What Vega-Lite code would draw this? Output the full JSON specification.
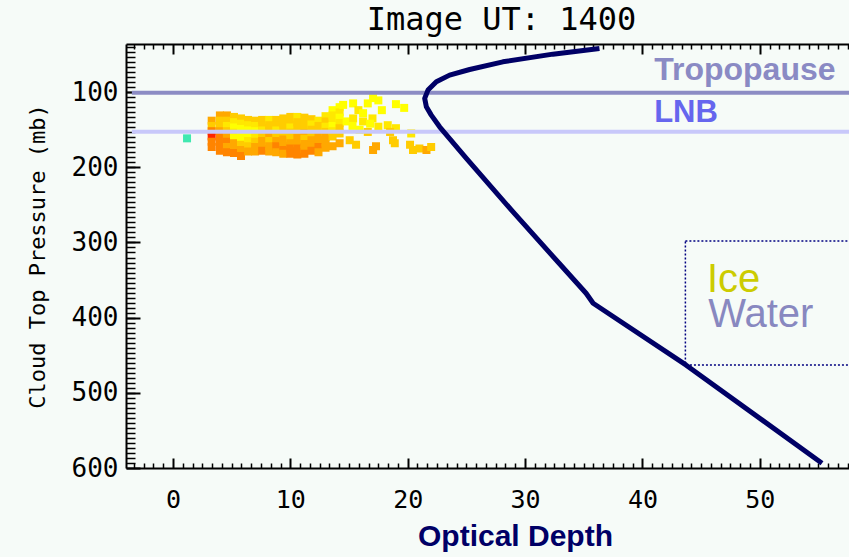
{
  "$schema": "https://vega.github.io/schema/vega-lite/v6.json",
  "width": 723,
  "height": 424,
  "autosize": {"type": "none"},
  "padding": {"left": 126, "top": 44, "right": 0, "bottom": 89},
  "background": "#f6fbf8",
  "title": {"text": "Image UT: 1400", "font": "DejaVu Sans Mono", "fontSize": 32, "fontWeight": "normal", "color": "#000000", "anchor": "middle", "dx": 14, "offset": -19, "baseline": "alphabetic"},
  "config": {
    "view": {"stroke": null},
    "axis": {"grid": false, "domainColor": "#000000", "tickColor": "#000000", "labelColor": "#000000", "titleColor": "#000000", "zindex": 1}
  },
  "datasets": {
    "clouds": [
      {"od": 1.2, "p": 161.5, "c": "C"},
      {"od": 3.3, "p": 138, "c": "O"}, {"od": 3.3, "p": 145, "c": "G"}, {"od": 3.3, "p": 152, "c": "D"}, {"od": 3.3, "p": 159, "c": "R"}, {"od": 3.3, "p": 166, "c": "D"}, {"od": 3.3, "p": 173, "c": "D"},
      {"od": 4.0, "p": 131, "c": "O"}, {"od": 4.0, "p": 138, "c": "G"}, {"od": 4.0, "p": 145, "c": "G"}, {"od": 4.0, "p": 152, "c": "O"}, {"od": 4.0, "p": 159, "c": "D"}, {"od": 4.0, "p": 166, "c": "D"}, {"od": 4.0, "p": 173, "c": "D"}, {"od": 4.0, "p": 178, "c": "D"},
      {"od": 4.6, "p": 131, "c": "O"}, {"od": 4.6, "p": 138, "c": "G"}, {"od": 4.6, "p": 145, "c": "y"}, {"od": 4.6, "p": 152, "c": "G"}, {"od": 4.6, "p": 159, "c": "O"}, {"od": 4.6, "p": 166, "c": "D"}, {"od": 4.6, "p": 173, "c": "O"}, {"od": 4.6, "p": 180, "c": "D"},
      {"od": 5.2, "p": 133, "c": "G"}, {"od": 5.2, "p": 140, "c": "y"}, {"od": 5.2, "p": 147, "c": "Y"}, {"od": 5.2, "p": 154, "c": "y"}, {"od": 5.2, "p": 161, "c": "Y"}, {"od": 5.2, "p": 168, "c": "O"}, {"od": 5.2, "p": 175, "c": "O"}, {"od": 5.2, "p": 181, "c": "D"},
      {"od": 5.8, "p": 135, "c": "G"}, {"od": 5.8, "p": 142, "c": "y"}, {"od": 5.8, "p": 149, "c": "Y"}, {"od": 5.8, "p": 156, "c": "Y"}, {"od": 5.8, "p": 163, "c": "Y"}, {"od": 5.8, "p": 170, "c": "G"}, {"od": 5.8, "p": 177, "c": "O"}, {"od": 5.8, "p": 185, "c": "D"},
      {"od": 6.4, "p": 137, "c": "G"}, {"od": 6.4, "p": 144, "c": "y"}, {"od": 6.4, "p": 151, "c": "Y"}, {"od": 6.4, "p": 158, "c": "Y"}, {"od": 6.4, "p": 165, "c": "y"}, {"od": 6.4, "p": 172, "c": "G"}, {"od": 6.4, "p": 179, "c": "O"},
      {"od": 7.0, "p": 138, "c": "G"}, {"od": 7.0, "p": 145, "c": "y"}, {"od": 7.0, "p": 152, "c": "Y"}, {"od": 7.0, "p": 159, "c": "y"}, {"od": 7.0, "p": 166, "c": "G"}, {"od": 7.0, "p": 173, "c": "O"}, {"od": 7.0, "p": 179, "c": "O"},
      {"od": 7.6, "p": 137, "c": "G"}, {"od": 7.6, "p": 144, "c": "G"}, {"od": 7.6, "p": 151, "c": "y"}, {"od": 7.6, "p": 158, "c": "G"}, {"od": 7.6, "p": 165, "c": "O"}, {"od": 7.6, "p": 172, "c": "O"}, {"od": 7.6, "p": 178, "c": "D"},
      {"od": 8.2, "p": 137, "c": "y"}, {"od": 8.2, "p": 144, "c": "G"}, {"od": 8.2, "p": 151, "c": "G"}, {"od": 8.2, "p": 158, "c": "O"}, {"od": 8.2, "p": 165, "c": "G"}, {"od": 8.2, "p": 172, "c": "O"}, {"od": 8.2, "p": 179, "c": "O"},
      {"od": 8.8, "p": 137, "c": "G"}, {"od": 8.8, "p": 144, "c": "G"}, {"od": 8.8, "p": 151, "c": "y"}, {"od": 8.8, "p": 158, "c": "G"}, {"od": 8.8, "p": 165, "c": "O"}, {"od": 8.8, "p": 172, "c": "D"}, {"od": 8.8, "p": 180, "c": "O"},
      {"od": 9.4, "p": 135, "c": "G"}, {"od": 9.4, "p": 142, "c": "G"}, {"od": 9.4, "p": 149, "c": "G"}, {"od": 9.4, "p": 156, "c": "G"}, {"od": 9.4, "p": 163, "c": "O"}, {"od": 9.4, "p": 170, "c": "O"}, {"od": 9.4, "p": 177, "c": "D"}, {"od": 9.4, "p": 182, "c": "O"},
      {"od": 10.0, "p": 133, "c": "G"}, {"od": 10.0, "p": 140, "c": "G"}, {"od": 10.0, "p": 147, "c": "y"}, {"od": 10.0, "p": 154, "c": "G"}, {"od": 10.0, "p": 161, "c": "G"}, {"od": 10.0, "p": 168, "c": "O"}, {"od": 10.0, "p": 175, "c": "D"}, {"od": 10.0, "p": 182, "c": "D"},
      {"od": 10.6, "p": 133, "c": "y"}, {"od": 10.6, "p": 140, "c": "G"}, {"od": 10.6, "p": 147, "c": "G"}, {"od": 10.6, "p": 154, "c": "G"}, {"od": 10.6, "p": 161, "c": "O"}, {"od": 10.6, "p": 168, "c": "O"}, {"od": 10.6, "p": 175, "c": "D"}, {"od": 10.6, "p": 183, "c": "D"},
      {"od": 11.2, "p": 134, "c": "G"}, {"od": 11.2, "p": 141, "c": "G"}, {"od": 11.2, "p": 148, "c": "G"}, {"od": 11.2, "p": 155, "c": "O"}, {"od": 11.2, "p": 162, "c": "G"}, {"od": 11.2, "p": 169, "c": "O"}, {"od": 11.2, "p": 176, "c": "O"}, {"od": 11.2, "p": 182, "c": "D"},
      {"od": 11.8, "p": 136, "c": "G"}, {"od": 11.8, "p": 143, "c": "y"}, {"od": 11.8, "p": 150, "c": "G"}, {"od": 11.8, "p": 157, "c": "G"}, {"od": 11.8, "p": 164, "c": "O"}, {"od": 11.8, "p": 171, "c": "O"}, {"od": 11.8, "p": 178, "c": "D"},
      {"od": 12.4, "p": 138, "c": "y"}, {"od": 12.4, "p": 145, "c": "G"}, {"od": 12.4, "p": 152, "c": "G"}, {"od": 12.4, "p": 159, "c": "O"}, {"od": 12.4, "p": 166, "c": "O"}, {"od": 12.4, "p": 173, "c": "D"}, {"od": 12.4, "p": 180, "c": "O"},
      {"od": 13.0, "p": 132, "c": "y"}, {"od": 13.0, "p": 139, "c": "G"}, {"od": 13.0, "p": 146, "c": "y"}, {"od": 13.0, "p": 153, "c": "G"}, {"od": 13.0, "p": 160, "c": "O"}, {"od": 13.0, "p": 167, "c": "O"}, {"od": 13.0, "p": 174, "c": "O"},
      {"od": 13.6, "p": 124, "c": "Y"}, {"od": 13.6, "p": 131, "c": "y"}, {"od": 13.6, "p": 138, "c": "y"}, {"od": 13.6, "p": 145, "c": "Y"}, {"od": 13.6, "p": 152, "c": "y"}, {"od": 13.6, "p": 159, "c": "G"}, {"od": 13.6, "p": 172, "c": "O"},
      {"od": 14.2, "p": 120, "c": "Y"}, {"od": 14.2, "p": 127, "c": "y"}, {"od": 14.2, "p": 134, "c": "Y"}, {"od": 14.2, "p": 141, "c": "y"}, {"od": 14.2, "p": 148, "c": "G"}, {"od": 14.2, "p": 155, "c": "G"}, {"od": 14.2, "p": 168, "c": "O"},
      {"od": 14.5, "p": 117, "c": "Y"}, {"od": 15.35, "p": 115, "c": "Y"}, {"od": 15.8, "p": 124, "c": "y"}, {"od": 16.2, "p": 128, "c": "Y"},
      {"od": 16.6, "p": 115, "c": "Y"}, {"od": 17.05, "p": 108, "c": "Y"}, {"od": 17.5, "p": 111, "c": "Y"}, {"od": 17.8, "p": 124, "c": "Y"},
      {"od": 19.0, "p": 116, "c": "Y"}, {"od": 19.7, "p": 121, "c": "Y"},
      {"od": 14.8, "p": 139, "c": "Y"}, {"od": 15.35, "p": 135, "c": "y"}, {"od": 15.3, "p": 145, "c": "Y"}, {"od": 16.2, "p": 139, "c": "y"}, {"od": 17.0, "p": 135, "c": "y"},
      {"od": 16.8, "p": 142, "c": "Y"}, {"od": 17.5, "p": 146, "c": "y"}, {"od": 15.9, "p": 150, "c": "Y"}, {"od": 16.6, "p": 153, "c": "G"},
      {"od": 18.3, "p": 144, "c": "y"}, {"od": 19.0, "p": 148, "c": "y"}, {"od": 18.5, "p": 153, "c": "G"}, {"od": 20.3, "p": 155, "c": "y"},
      {"od": 15.06, "p": 164, "c": "G"}, {"od": 15.6, "p": 170, "c": "G"}, {"od": 17.05, "p": 177, "c": "O"}, {"od": 17.3, "p": 172, "c": "O"},
      {"od": 18.75, "p": 164, "c": "G"}, {"od": 18.9, "p": 168, "c": "G"}, {"od": 20.2, "p": 170, "c": "G"}, {"od": 20.45, "p": 177, "c": "G"},
      {"od": 21.0, "p": 175, "c": "G"}, {"od": 21.6, "p": 177, "c": "O"}, {"od": 22.0, "p": 173, "c": "G"}
    ],
    "curve": [
      {"od": 36.34, "p": 41.96}, {"od": 32.37, "p": 49.5}, {"od": 28.11, "p": 59.7}, {"od": 25.28, "p": 69.9},
      {"od": 23.57, "p": 77.4}, {"od": 22.44, "p": 86.3}, {"od": 21.73, "p": 97.3}, {"od": 21.45, "p": 108.4},
      {"od": 21.59, "p": 119.5}, {"od": 22.01, "p": 130.6}, {"od": 22.72, "p": 146.1}, {"od": 25.0, "p": 188.2},
      {"od": 28.9, "p": 258}, {"od": 32.9, "p": 327.7}, {"od": 35.2, "p": 367.6}, {"od": 35.8, "p": 380.9},
      {"od": 43.7, "p": 462.9}, {"od": 55.3, "p": 593.6}
    ],
    "levels": [
      {"name": "Tropopause", "p": 101},
      {"name": "LNB", "p": 152.8}
    ],
    "notes": [
      {"label": "Ice"},
      {"label": "Water"}
    ]
  },
  "resolve": {"axis": {"x": "independent", "y": "independent"}},
  "layer": [
    {
      "data": {"name": "clouds"},
      "mark": {"type": "point", "shape": "square", "filled": true, "size": 64, "opacity": 1},
      "encoding": {
        "x": {"field": "od", "type": "quantitative", "scale": {"domain": [-4, 57.6], "nice": false, "zero": false},
              "axis": {"orient": "bottom", "values": [0, 10, 20, 30, 40, 50], "tickSize": -10, "tickWidth": 2, "labels": false, "domain": false, "title": null}},
        "y": {"field": "p", "type": "quantitative", "scale": {"domain": [36, 600], "reverse": true, "nice": false, "zero": false},
              "axis": {"orient": "left", "values": [100, 200, 300, 400, 500, 600], "tickSize": -14, "tickWidth": 2, "labels": false, "domain": false, "title": null}},
        "color": {"field": "c", "type": "nominal", "legend": null,
                  "scale": {"domain": ["R", "D", "O", "G", "y", "Y", "C"], "range": ["#ff2400", "#ff8400", "#ffa800", "#ffcc00", "#ffe800", "#ffff00", "#40e8b0"]}}
      }
    },
    {
      "data": {"name": "levels"},
      "transform": [{"filter": "datum.name === 'Tropopause'"}],
      "mark": {"type": "rule", "strokeWidth": 4, "color": "#8c8cc4"},
      "encoding": {
        "y": {"field": "p", "type": "quantitative", "scale": {"domain": [36, 600], "reverse": true, "nice": false, "zero": false},
              "axis": {"orient": "left", "values": [40,46.67,53.33,60,66.67,73.33,80,86.67,93.33,100,106.67,113.33,120,126.67,133.33,140,146.67,153.33,160,166.67,173.33,180,186.67,193.33,200,206.67,213.33,220,226.67,233.33,240,246.67,253.33,260,266.67,273.33,280,286.67,293.33,300,306.67,313.33,320,326.67,333.33,340,346.67,353.33,360,366.67,373.33,380,386.67,393.33,400,406.67,413.33,420,426.67,433.33,440,446.67,453.33,460,466.67,473.33,480,486.67,493.33,500,506.67,513.33,520,526.67,533.33,540,546.67,553.33,560,566.67,573.33,580,586.67,593.33],
                       "tickSize": -9, "tickWidth": 1.5, "labels": false, "domain": false, "title": null}},
        "x": {"datum": -3.5, "type": "quantitative", "scale": {"domain": [-4, 57.6], "nice": false, "zero": false},
              "axis": {"orient": "bottom", "values": [-3.33,-2.5,-1.67,-0.83,0.83,1.67,2.5,3.33,4.17,5,5.83,6.67,7.5,8.33,9.17,10.83,11.67,12.5,13.33,14.17,15,15.83,16.67,17.5,18.33,19.17,20.83,21.67,22.5,23.33,24.17,25,25.83,26.67,27.5,28.33,29.17,30.83,31.67,32.5,33.33,34.17,35,35.83,36.67,37.5,38.33,39.17,40.83,41.67,42.5,43.33,44.17,45,45.83,46.67,47.5,48.33,49.17,50.83,51.67,52.5,53.33,54.17,55,55.83,56.67,57.5],
                       "tickSize": -5, "tickWidth": 1.5, "labels": false, "domain": false, "title": null}},
        "x2": {"datum": 57.6}
      }
    },
    {
      "data": {"name": "levels"},
      "transform": [{"filter": "datum.name === 'LNB'"}],
      "mark": {"type": "rule", "strokeWidth": 4, "color": "#c8c8fa"},
      "encoding": {
        "y": {"field": "p", "type": "quantitative", "scale": {"domain": [36, 600], "reverse": true, "nice": false, "zero": false},
              "axis": {"orient": "left", "values": [100, 200, 300, 400, 500, 600], "ticks": false, "domain": true, "domainWidth": 2,
                       "labelFont": "DejaVu Sans Mono", "labelFontSize": 26, "labelPadding": 8,
                       "title": "Cloud Top Pressure (mb)", "titleFont": "DejaVu Sans Mono", "titleFontSize": 22, "titleFontWeight": "normal",
                       "titlePadding": 22, "titleLimit": 600}},
        "x": {"datum": -3.5, "type": "quantitative", "scale": {"domain": [-4, 57.6], "nice": false, "zero": false},
              "axis": {"orient": "top", "values": [0, 10, 20, 30, 40, 50], "tickSize": -10, "tickWidth": 2, "labels": false, "domain": true, "domainWidth": 2, "title": null}},
        "x2": {"datum": 57.6}
      }
    },
    {
      "data": {"name": "levels"},
      "transform": [{"filter": "datum.name === 'Tropopause'"}],
      "mark": {"type": "text", "align": "left", "baseline": "alphabetic", "dy": -12.5, "font": "Liberation Sans", "fontSize": 32, "fontWeight": "bold", "color": "#8a8ac4"},
      "encoding": {
        "text": {"field": "name"},
        "y": {"field": "p", "type": "quantitative", "scale": {"domain": [36, 600], "reverse": true, "nice": false, "zero": false}, "axis": null},
        "x": {"datum": 41, "type": "quantitative", "scale": {"domain": [-4, 57.6], "nice": false, "zero": false},
              "axis": {"orient": "top", "values": [-3.33,-2.5,-1.67,-0.83,0.83,1.67,2.5,3.33,4.17,5,5.83,6.67,7.5,8.33,9.17,10.83,11.67,12.5,13.33,14.17,15,15.83,16.67,17.5,18.33,19.17,20.83,21.67,22.5,23.33,24.17,25,25.83,26.67,27.5,28.33,29.17,30.83,31.67,32.5,33.33,34.17,35,35.83,36.67,37.5,38.33,39.17,40.83,41.67,42.5,43.33,44.17,45,45.83,46.67,47.5,48.33,49.17,50.83,51.67,52.5,53.33,54.17,55,55.83,56.67,57.5],
                       "tickSize": -5, "tickWidth": 1.5, "labels": false, "domain": false, "title": null}}
      }
    },
    {
      "data": {"name": "levels"},
      "transform": [{"filter": "datum.name === 'LNB'"}],
      "mark": {"type": "text", "align": "left", "baseline": "alphabetic", "dy": -10, "font": "Liberation Sans", "fontSize": 31, "fontWeight": "bold", "color": "#6666ee"},
      "encoding": {
        "text": {"field": "name"},
        "y": {"field": "p", "type": "quantitative", "scale": {"domain": [36, 600], "reverse": true, "nice": false, "zero": false}, "axis": null},
        "x": {"datum": 41, "type": "quantitative", "scale": {"domain": [-4, 57.6], "nice": false, "zero": false},
              "axis": {"orient": "bottom", "values": [0, 10, 20, 30, 40, 50], "ticks": false, "domain": true, "domainWidth": 2,
                       "labelFont": "DejaVu Sans Mono", "labelFontSize": 25, "labelPadding": 19,
                       "title": "Optical Depth", "titleFont": "Liberation Sans", "titleFontSize": 30, "titleFontWeight": "bold", "titleColor": "#000066",
                       "titleX": 389, "titleY": 77, "titleBaseline": "alphabetic", "titleAlign": "center"}}
      }
    },
    {
      "data": {"name": "notes"},
      "transform": [{"filter": "datum.label === 'Ice'"}],
      "mark": {"type": "rect", "fill": null, "fillOpacity": 0, "stroke": "#000080", "strokeWidth": 1.5, "strokeDash": [2, 2], "clip": true},
      "encoding": {
        "x": {"datum": 43.66, "type": "quantitative", "scale": {"domain": [-4, 57.6], "nice": false, "zero": false}, "axis": null},
        "x2": {"datum": 62},
        "y": {"datum": 298, "type": "quantitative", "scale": {"domain": [36, 600], "reverse": true, "nice": false, "zero": false}, "axis": null},
        "y2": {"datum": 463}
      }
    },
    {
      "data": {"name": "curve"},
      "mark": {"type": "line", "strokeWidth": 5, "color": "#000066", "strokeJoin": "round"},
      "encoding": {
        "x": {"field": "od", "type": "quantitative", "scale": {"domain": [-4, 57.6], "nice": false, "zero": false}, "axis": null},
        "y": {"field": "p", "type": "quantitative", "scale": {"domain": [36, 600], "reverse": true, "nice": false, "zero": false}, "axis": null},
        "order": {"field": "p", "type": "quantitative"}
      }
    },
    {
      "data": {"name": "notes"},
      "transform": [{"filter": "datum.label === 'Ice'"}],
      "mark": {"type": "text", "align": "left", "baseline": "alphabetic", "font": "Liberation Sans", "fontSize": 40, "color": "#cccc00"},
      "encoding": {
        "text": {"field": "label"},
        "x": {"datum": 45.5, "type": "quantitative", "scale": {"domain": [-4, 57.6], "nice": false, "zero": false}, "axis": null},
        "y": {"datum": 366, "type": "quantitative", "scale": {"domain": [36, 600], "reverse": true, "nice": false, "zero": false}, "axis": null}
      }
    },
    {
      "data": {"name": "notes"},
      "transform": [{"filter": "datum.label === 'Water'"}],
      "mark": {"type": "text", "align": "left", "baseline": "alphabetic", "font": "Liberation Sans", "fontSize": 40, "color": "#8888c0"},
      "encoding": {
        "text": {"field": "label"},
        "x": {"datum": 45.6, "type": "quantitative", "scale": {"domain": [-4, 57.6], "nice": false, "zero": false}, "axis": null},
        "y": {"datum": 413, "type": "quantitative", "scale": {"domain": [36, 600], "reverse": true, "nice": false, "zero": false}, "axis": null}
      }
    }
  ]
}
